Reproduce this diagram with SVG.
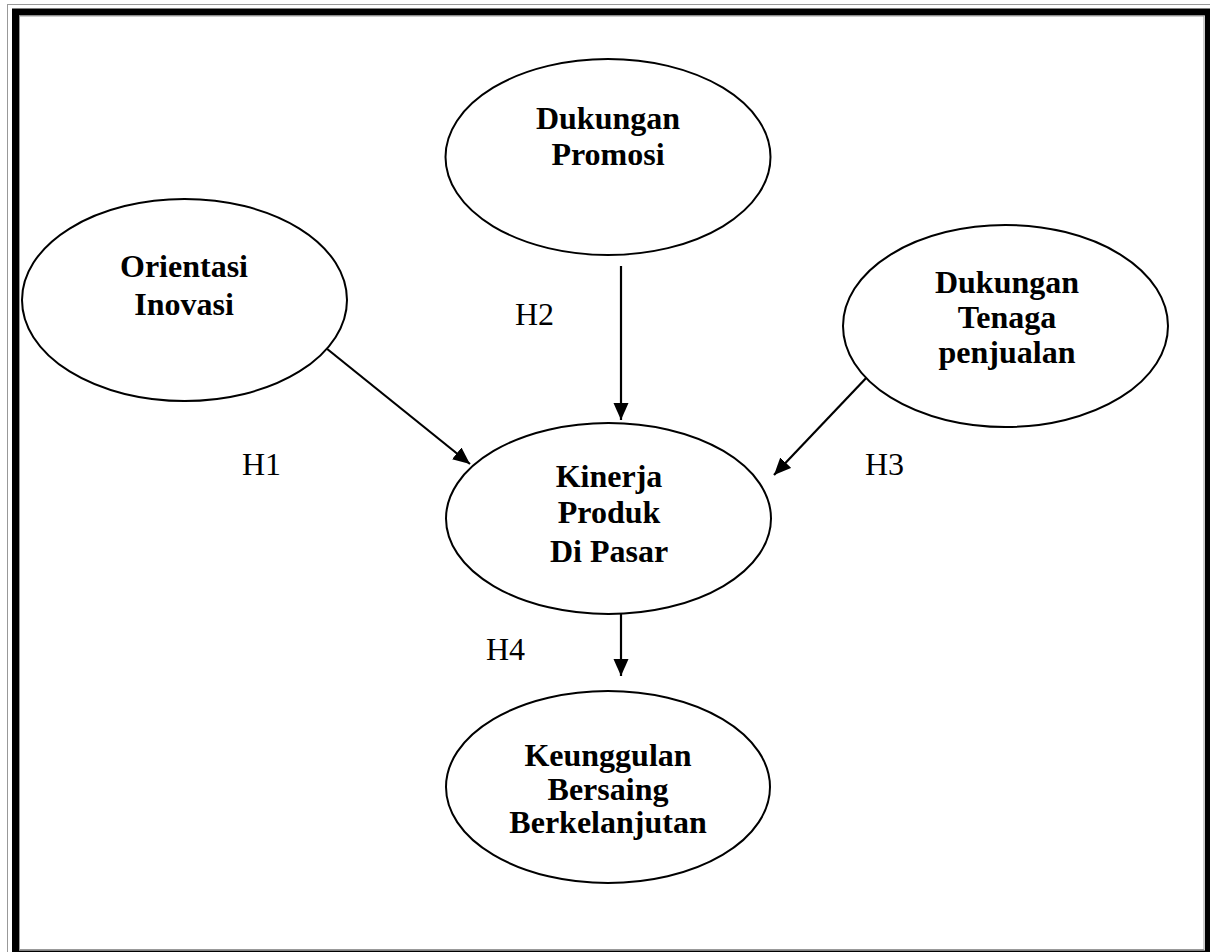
<svg xmlns="http://www.w3.org/2000/svg" width="1210" height="952" viewBox="0 0 1210 952">
<style>
.node{fill:#fff;stroke:#000;stroke-width:2}
.t{font-family:"Liberation Serif","Times New Roman",serif;font-weight:bold;font-size:32px;text-anchor:middle;fill:#000}
.h{font-family:"Liberation Serif","Times New Roman",serif;font-size:32px;fill:#000}
.c{stroke:#000;stroke-width:2.2;fill:none;marker-end:url(#ah)}
</style>
<defs>
<marker id="ah" markerUnits="userSpaceOnUse" markerWidth="18" markerHeight="16" refX="17" refY="7.5" orient="auto">
<path d="M0,0 L17,7.5 L0,15 z" fill="#000"/>
</marker>
</defs>
<rect x="0" y="0" width="1210" height="952" fill="#fff"/>
<g id="frame">
<rect x="7.5" y="4.5" width="1209" height="957" fill="none" stroke="#999" stroke-width="1"/>
<rect x="15.5" y="12" width="1193" height="942" fill="none" stroke="#000" stroke-width="7"/>
<rect x="19.5" y="16" width="1184.5" height="933.5" fill="none" stroke="#999" stroke-width="1"/>
</g>
<g id="connectors">
<line class="c" x1="321" y1="344" x2="470" y2="464"/>
<line class="c" x1="621" y1="266" x2="621" y2="420"/>
<line class="c" x1="869" y1="375" x2="774" y2="475"/>
<line class="c" x1="621" y1="614" x2="621" y2="676"/>
</g>
<g id="labels">
<text class="h" x="242" y="475">H1</text>
<text class="h" x="515" y="325">H2</text>
<text class="h" x="865" y="475">H3</text>
<text class="h" x="486" y="660">H4</text>
</g>
<g id="dukungan-promosi">
<ellipse class="node" cx="608" cy="157" rx="162.5" ry="98"/>
<text class="t" x="608" y="129">Dukungan</text>
<text class="t" x="608" y="165">Promosi</text>
</g>
<g id="orientasi-inovasi">
<ellipse class="node" cx="184.5" cy="300" rx="162.5" ry="101"/>
<text class="t" x="184" y="277">Orientasi</text>
<text class="t" x="184" y="315">Inovasi</text>
</g>
<g id="dukungan-tenaga-penjualan">
<ellipse class="node" cx="1005.5" cy="326" rx="162.5" ry="101"/>
<text class="t" x="1007" y="293">Dukungan</text>
<text class="t" x="1007" y="328">Tenaga</text>
<text class="t" x="1007" y="363">penjualan</text>
</g>
<g id="kinerja-produk">
<ellipse class="node" cx="608.5" cy="518.5" rx="162.5" ry="95.5"/>
<text class="t" x="609" y="487">Kinerja</text>
<text class="t" x="609" y="523">Produk</text>
<text class="t" x="609" y="562">Di Pasar</text>
</g>
<g id="keunggulan-bersaing">
<ellipse class="node" cx="608" cy="787" rx="162" ry="96"/>
<text class="t" x="608" y="766">Keunggulan</text>
<text class="t" x="608" y="800">Bersaing</text>
<text class="t" x="608" y="833">Berkelanjutan</text>
</g>
</svg>
